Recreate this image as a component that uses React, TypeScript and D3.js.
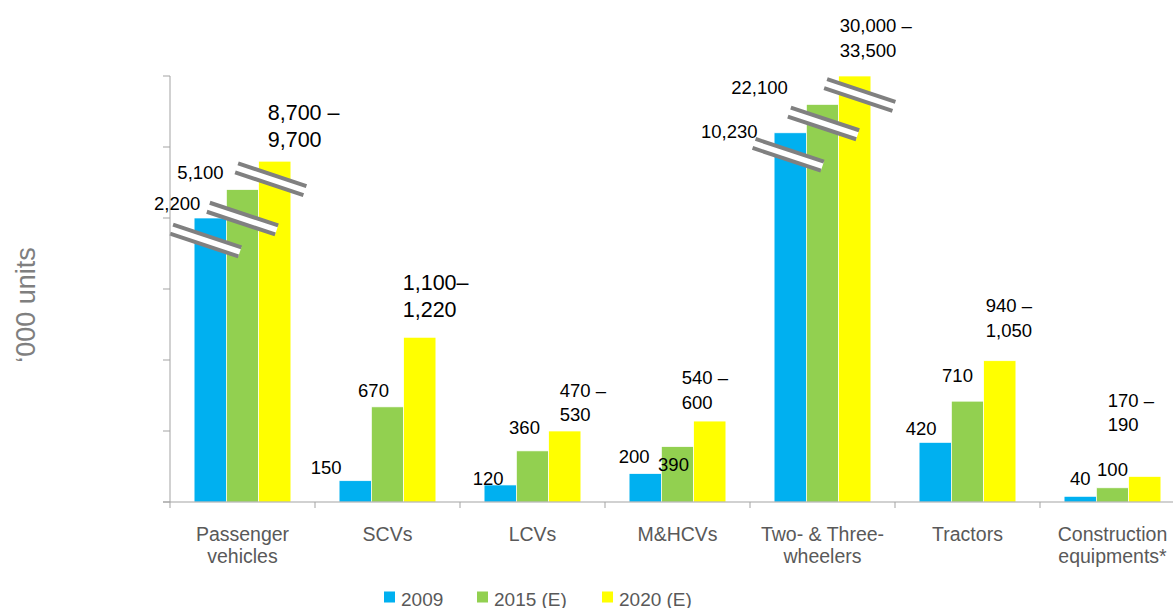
import React from "react";
import * as d3 from "d3";

// Vehicle sales in India ('000 units)
const categoryLines: string[][] = [
  ["Passenger", "vehicles"],
  ["SCVs"],
  ["LCVs"],
  ["M&HCVs"],
  ["Two- & Three-", "wheelers"],
  ["Tractors"],
  ["Construction", "equipments*"],
];
const categories = categoryLines.map((l) => l.join(" "));
const seriesNames = ["2009", "2015 (E)", "2020 (E)"];
const seriesColors = ["#00B0F0", "#92D050", "#FFFF00"];

const values2009 = [2200, 150, 120, 200, 10230, 420, 40];
const values2015 = [5100, 670, 360, 390, 22100, 710, 100];
const low2020 = [8700, 1100, 470, 540, 30000, 940, 170];
const high2020 = [9700, 1220, 530, 600, 33500, 1050, 190];
const rangeDash = [" –", "–", " –", " –", " –", " –", " –"];

// Broken value axis: linear up to 1,500, compressed above it
const breakDomain = [0, 1500, 2200, 5100, 9200, 10230, 22100, 31750];
const breakLevels = [0, 1500, 2000, 2200, 2400, 2600, 2800, 3000];
const axisLevels = [0, 500, 1000, 1500, 2000, 2500, 3000];

// Label placement relative to each bar (center x, top y)
const labelOffsets2009: [number, number][] = [[-33, -8], [-29, -7], [-12, 0], [-11, -11], [-61, 5], [-14, -7], [0, -11]];
const labelOffsets2015: [number, number][] = [[-42, -11], [-14, -10], [-8, -17], [-4, 24], [-63, -10], [-10, -19], [0, -12]];
const labelOffsets2020: [number, number][] = [[-7, -41.5], [-17, -47.5], [-5, -34], [-28, -37], [-15, -44], [-14, -49], [-37, -69]];
const rangeFont = [21.5, 21.5, 18.5, 18.5, 18.5, 18.5, 18.5];
const rangeLineGap = [27, 27, 24, 25, 25, 25, 24];
const breakOffsets: Record<number, [number, number][]> = {
  0: [[-4.5, 22.5], [0, 29], [-4, 18]],
  4: [[-2, 22], [1, 19], [5, 19]],
};
const legendX = [384, 477, 602];

const W = 1173;
const H = 608;
const FONT = "'Liberation Sans', Arial, Helvetica, sans-serif";
const AXIS = "#A3A3A3";
const TEXT_GRAY = "#595959";

const fmt = d3.format(",");

export default function App() {
  const x0 = d3
    .scaleBand<string>()
    .domain(categories)
    .range([170, 1185])
    .paddingInner(0.3324)
    .paddingOuter(0.1662);
  const x1 = d3.scaleBand<string>().domain(seriesNames).range([0, x0.bandwidth()]);
  const y = d3.scaleLinear().domain([0, 3000]).range([502, 76]);
  const level = d3.scaleLinear().domain(breakDomain).range(breakLevels);
  const yPos = (v: number) => y(level(v));

  const step = x0.step();
  const bandStart = (c: string) => (x0(c) as number) - (step * x0.paddingInner()) / 2;

  const series = [
    values2009,
    values2015,
    low2020.map((lo, i) => (lo + high2020[i]) / 2),
  ];

  const bars = categories.flatMap((c, ci) =>
    seriesNames.map((s, si) => {
      const v = series[si][ci];
      const bx = (x0(c) as number) + (x1(s) as number);
      const bw = x1.bandwidth();
      return { ci, si, v, x: bx, w: bw, cx: bx + bw / 2, top: yPos(v) };
    })
  );

  const tickXs = categories.map(bandStart);

  return (
    <svg
      width={W}
      height={H}
      style={{ position: "absolute", left: 0, top: 0, background: "#fff" }}
      fontFamily={FONT}
    >
      {/* bars */}
      {bars.map((b) => (
        <rect
          key={`bar-${b.ci}-${b.si}`}
          x={b.x}
          y={b.top}
          width={b.w}
          height={y(0) - b.top}
          fill={seriesColors[b.si]}
          stroke="#ffffff"
          strokeWidth={0.7}
        />
      ))}

      {/* break marks on bars that exceed the linear part of the axis */}
      {bars
        .filter((b) => b.v > breakDomain[1])
        .map((b) => {
          const off = breakOffsets[b.ci][b.si];
          return (
            <g
              key={`brk-${b.ci}-${b.si}`}
              transform={`translate(${b.cx + off[0]},${b.top + off[1]}) rotate(18.4)`}
            >
              <rect x={-36} y={-4.75} width={72} height={9.5} fill="#fff" />
              <line x1={-36} x2={36} y1={-4.75} y2={-4.75} stroke="#808080" strokeWidth={4} />
              <line x1={-36} x2={36} y1={4.75} y2={4.75} stroke="#808080" strokeWidth={4} />
            </g>
          );
        })}

      {/* value axis */}
      <line x1={170} x2={170} y1={y(3000)} y2={y(0)} stroke={AXIS} strokeWidth={1} />
      {axisLevels.map((t) => (
        <line key={`yt-${t}`} x1={163} x2={170} y1={y(t)} y2={y(t)} stroke={AXIS} strokeWidth={1} />
      ))}

      {/* category axis */}
      <line x1={163} x2={W} y1={y(0)} y2={y(0)} stroke={AXIS} strokeWidth={1} />
      {tickXs.map((tx, i) => (
        <line key={`xt-${i}`} x1={tx} x2={tx} y1={y(0)} y2={y(0) + 6} stroke={AXIS} strokeWidth={1} />
      ))}
      {categoryLines.map((lines, ci) => (
        <text
          key={`cat-${ci}`}
          x={(x0(categories[ci]) as number) + x0.bandwidth() / 2}
          y={541}
          textAnchor="middle"
          fontSize={19.5}
          fill={TEXT_GRAY}
        >
          {lines.map((ln, li) => (
            <tspan key={li} x={(x0(categories[ci]) as number) + x0.bandwidth() / 2} dy={li === 0 ? 0 : 22}>
              {ln}
            </tspan>
          ))}
        </text>
      ))}

      {/* value labels */}
      {bars.map((b) => {
        if (b.si === 0 || b.si === 1) {
          const off = (b.si === 0 ? labelOffsets2009 : labelOffsets2015)[b.ci];
          return (
            <text
              key={`lbl-${b.ci}-${b.si}`}
              x={b.cx + off[0]}
              y={b.top + off[1]}
              textAnchor="middle"
              fontSize={18.5}
              fill="#000"
            >
              {fmt(b.v)}
            </text>
          );
        }
        const off = labelOffsets2020[b.ci];
        const lx = b.cx + off[0];
        return (
          <text
            key={`lbl-${b.ci}-${b.si}`}
            x={lx}
            y={b.top + off[1]}
            fontSize={rangeFont[b.ci]}
            fill="#000"
          >
            <tspan x={lx} dy={0}>
              {fmt(low2020[b.ci]) + rangeDash[b.ci]}
            </tspan>
            <tspan x={lx} dy={rangeLineGap[b.ci]}>
              {fmt(high2020[b.ci])}
            </tspan>
          </text>
        );
      })}

      {/* axis title */}
      <text
        transform={`translate(35,305) rotate(-90)`}
        textAnchor="middle"
        fontSize={27}
        fill="#7F7F7F"
      >
        ‘000 units
      </text>

      {/* legend */}
      {seriesNames.map((s, i) => (
        <g key={`leg-${s}`}>
          <rect x={legendX[i]} y={591.5} width={11} height={11} fill={seriesColors[i]} />
          <text x={legendX[i] + 17} y={605.5} fontSize={19} fill={TEXT_GRAY}>
            {s}
          </text>
        </g>
      ))}
    </svg>
  );
}
